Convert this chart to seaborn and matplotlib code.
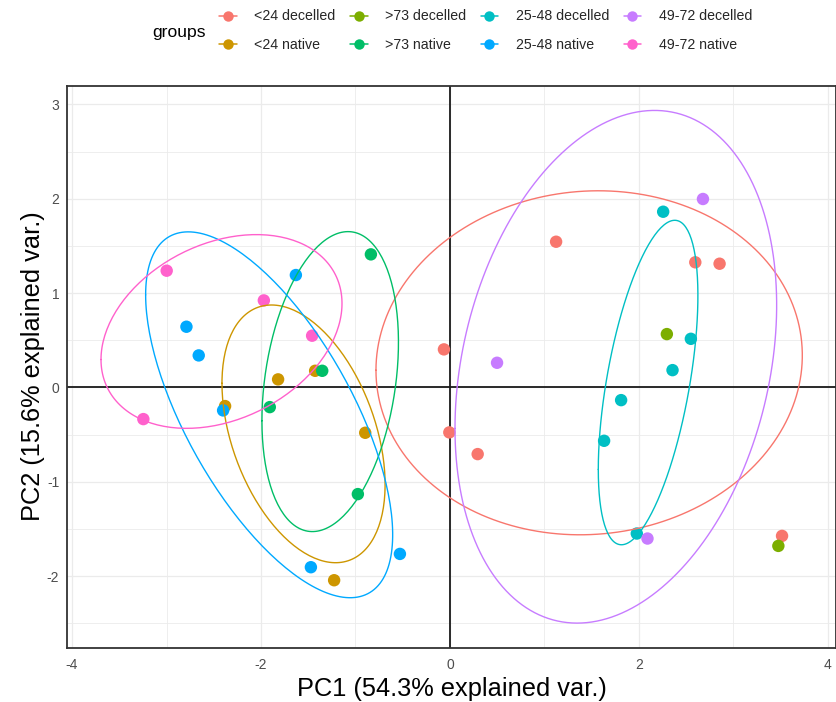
import numpy as np
import pandas as pd
import matplotlib
matplotlib.use("Agg")
import matplotlib.pyplot as plt
from matplotlib.lines import Line2D
import seaborn as sns

# Group order and colours (ggplot hue palette)
groups = ["<24 decelled", "<24 native", ">73 decelled", ">73 native",
          "25-48 decelled", "25-48 native", "49-72 decelled", "49-72 native"]
palette = ["#F8766D", "#CD9600", "#7CAE00", "#00BE67",
           "#00BFC4", "#00A9FF", "#C77CFF", "#FF61CC"]

# PCA scores per group
pc1_lt24_dec = [-0.064, -0.007, 0.293, 1.123, 2.596, 2.853, 3.514]
pc2_lt24_dec = [0.403, -0.477, -0.707, 1.544, 1.326, 1.311, -1.574]

pc1_lt24_nat = [-1.819, -1.427, -2.380, -0.897, -1.226]
pc2_lt24_nat = [0.085, 0.176, -0.198, -0.481, -2.044]

pc1_gt73_dec = [2.295, 3.475]
pc2_gt73_dec = [0.565, -1.680]

pc1_gt73_nat = [-0.837, -1.352, -1.907, -0.975]
pc2_gt73_nat = [1.410, 0.176, -0.209, -1.131]

pc1_25_48_dec = [2.256, 2.549, 2.355, 1.811, 1.631, 1.977]
pc2_25_48_dec = [1.862, 0.515, 0.183, -0.135, -0.566, -1.549]

pc1_25_48_nat = [-1.631, -2.789, -2.659, -2.401, -0.530, -1.472]
pc2_25_48_nat = [1.191, 0.643, 0.339, -0.244, -1.765, -1.906]

pc1_49_72_dec = [2.677, 0.498, 2.090]
pc2_49_72_dec = [1.997, 0.261, -1.602]

pc1_49_72_nat = [-2.998, -1.970, -1.459, -3.245]
pc2_49_72_nat = [1.237, 0.922, 0.548, -0.336]

pc1_all = [pc1_lt24_dec, pc1_lt24_nat, pc1_gt73_dec, pc1_gt73_nat,
           pc1_25_48_dec, pc1_25_48_nat, pc1_49_72_dec, pc1_49_72_nat]
pc2_all = [pc2_lt24_dec, pc2_lt24_nat, pc2_gt73_dec, pc2_gt73_nat,
           pc2_25_48_dec, pc2_25_48_nat, pc2_49_72_dec, pc2_49_72_nat]

x_ticks = [-4, -2, 0, 2, 4]
y_ticks = [-2, -1, 0, 1, 2, 3]
x_label = "PC1 (54.3% explained var.)"
y_label = "PC2 (15.6% explained var.)"

rows = []
for g, xs, ys in zip(groups, pc1_all, pc2_all):
    for a, b in zip(xs, ys):
        rows.append({"PC1": a, "PC2": b, "groups": g})
df = pd.DataFrame(rows)

sns.set_style("white")
plt.rcParams["font.family"] = ["Liberation Sans", "DejaVu Sans"]
plt.rcParams["axes.unicode_minus"] = False

fig = plt.figure(figsize=(8.37, 7.02), dpi=100)
ax = fig.add_axes([67 / 837, 1 - 647.5 / 702, (836 - 67) / 837, (647.5 - 85.5) / 702])

# grid (major + minor)
for v in np.arange(-4, 4.01, 1):
    ax.axvline(v, color="#EBEBEB", lw=0.9 if v % 2 == 0 else 0.6, zorder=0)
for v in np.arange(-2.5, 3.01, 0.5):
    ax.axhline(v, color="#EBEBEB", lw=0.9 if v % 1 == 0 else 0.6, zorder=0)

ax.axhline(0, color="#1a1a1a", lw=1.3, zorder=1)
ax.axvline(0, color="#1a1a1a", lw=1.3, zorder=1)

sns.scatterplot(data=df, x="PC1", y="PC2", hue="groups", hue_order=groups,
                palette=palette, s=80, linewidth=0, legend=False, ax=ax, zorder=3)

# normal-probability ellipses (68%) per group, as in ggbiplot
ed = np.sqrt(-2 * np.log(1 - 0.68))
theta = np.linspace(-np.pi, np.pi, 200)
circle = np.column_stack([np.cos(theta), np.sin(theta)])
for g, col, xs, ys in zip(groups, palette, pc1_all, pc2_all):
    if len(xs) < 3:
        continue
    pts = np.column_stack([xs, ys])
    sigma = np.cov(pts, rowvar=False)
    mu = pts.mean(axis=0)
    U = np.linalg.cholesky(sigma).T
    ell = circle @ U * ed + mu
    ax.plot(ell[:, 0], ell[:, 1], color=col, lw=1.0, zorder=4)

ax.set_xlim(-4.053, 4.085)
ax.set_ylim(-2.757, 3.200)
ax.set_xticks(x_ticks)
ax.set_yticks(y_ticks)
ax.tick_params(axis="both", length=3, width=0.8, color="#333333",
               labelcolor="#4D4D4D", labelsize=10)
ax.tick_params(axis="x", pad=4.5)
ax.tick_params(axis="y", pad=2.5)
for sp in ax.spines.values():
    sp.set_visible(True)
    sp.set_color("#333333")
    sp.set_linewidth(1.3)
ax.set_xlabel(x_label, fontsize=18.3, color="black", labelpad=4)
ax.set_ylabel(y_label, fontsize=18.3, color="black", labelpad=1)

handles = [Line2D([0], [0], color=c, marker="o", markersize=7.5, lw=1.1,
                  markeredgewidth=0) for c in palette]
fig.legend(handles, groups, ncol=4, loc="upper left",
           bbox_to_anchor=(219 / 837, 1 - 9.5 / 702), frameon=False,
           fontsize=10.2, handlelength=1.25, handletextpad=1.25,
           columnspacing=1.0, labelspacing=1.0, borderpad=0,
           borderaxespad=0)
fig.text(152 / 837, 1 - 32.5 / 702, "groups", fontsize=12.6, va="center",
         ha="left", color="black")

fig.savefig("out.png", dpi=100)
